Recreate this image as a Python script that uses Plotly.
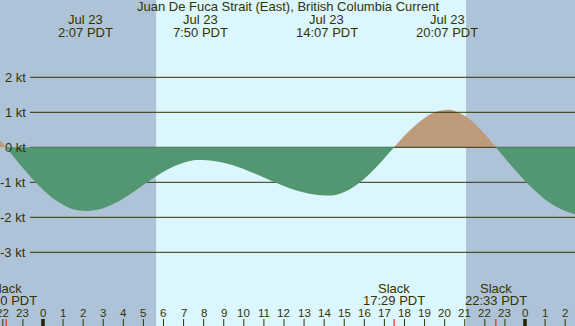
import plotly.graph_objects as go

# ---- data (hours relative to midnight Jul 23, PDT) ----
hours = [-2.14, -1.83, -1.5, -1.0, -0.5, 0.0, 0.5, 1.0, 1.5, 2.12,
         2.5, 3.0, 3.5, 4.0, 4.5, 5.0, 5.5, 6.0, 6.5, 7.0, 7.5, 7.83,
         8.5, 9.5, 10.5, 11.5, 12.5, 13.5, 14.2,
         14.5, 15.0, 15.5, 16.0, 16.5, 17.0, 17.48,
         18.0, 18.5, 19.0, 19.5, 20.12, 20.5, 21.0, 21.5, 22.0, 22.55,
         23.0, 23.5, 24.0, 24.5, 25.0, 25.5, 26.0, 26.49]
speed = [0.2, 0.0, -0.24, -0.59, -0.92, -1.21, -1.46, -1.64, -1.77, -1.82,
         -1.80, -1.74, -1.62, -1.46, -1.28, -1.08, -0.88, -0.70, -0.55, -0.44, -0.37, -0.36,
         -0.39, -0.52, -0.74, -0.99, -1.21, -1.35, -1.38,
         -1.37, -1.28, -1.12, -0.90, -0.62, -0.31, 0.0,
         0.33, 0.61, 0.84, 1.00, 1.07, 1.04, 0.90, 0.67, 0.37, 0.0,
         -0.31, -0.64, -0.96, -1.24, -1.49, -1.68, -1.82, -1.91]

title = "Juan De Fuca Strait (East), British Columbia Current"
max_times = [2 + 7/60, 7 + 50/60, 14 + 7/60, 20 + 7/60, 26 + 56/60]
max_dates = ["Jul 23", "Jul 23", "Jul 23", "Jul 23", "Jul 24"]
max_labels = ["2:07 PDT", "7:50 PDT", "14:07 PDT", "20:07 PDT", "2:56 PDT"]
slack_times = [-2 + 10/60, 17 + 29/60, 22 + 33/60]
slack_labels = ["22:10 PDT", "17:29 PDT", "22:33 PDT"]
sunrise = 5 + 38/60
sunset = 21 + 4/60
ytick_vals = [2, 1, 0, -1, -2, -3]
ytick_text = ["2 kt", "1 kt", "0 kt", "-1 kt", "-2 kt", "-3 kt"]
hour_ticks = list(range(-2, 27))
hour_text = [str(h % 24) for h in hour_ticks]

W, H = 575, 326
XR = [-2.14, 26.49]
YR = [-5.106, 4.209]
TXT = "#333300"
FONT = "Liberation Sans, Arial, sans-serif"
NIGHT = "#afc3d8"
DAY = "#dcf6fe"
EBB = "#529672"
FLOOD = "#bd9b7b"

def px2y(p):  # pixel row -> paper y
    return 1 - p / H

def px2h(p):
    return XR[0] + p / W * (XR[1] - XR[0])

fig = go.Figure()

# split into segments at slack points
segs = []
cur = [0]
for i in range(1, len(hours)):
    cur.append(i)
    if speed[i] == 0 and i != len(hours) - 1:
        segs.append(cur)
        cur = [i]
segs.append(cur)

def add_seg(idx, color):
    fig.add_trace(go.Scatter(
        x=[hours[i] for i in idx], y=[speed[i] for i in idx],
        mode="lines", line=dict(width=0, shape="spline", smoothing=1.0),
        fill="tozeroy", fillcolor=color, hoverinfo="skip", showlegend=False))

flood_segs = [s for s in segs if max(speed[i] for i in s) > 0]
ebb_segs = [s for s in segs if min(speed[i] for i in s) < 0]

for s in flood_segs:
    add_seg(s, FLOOD)

# gridlines (drawn above flood, below ebb)
gx0 = px2h(30)
for v in ytick_vals:
    fig.add_trace(go.Scatter(x=[gx0, XR[1]], y=[v, v], mode="lines",
                             line=dict(color=TXT, width=1), hoverinfo="skip",
                             showlegend=False))

for s in ebb_segs:
    add_seg(s, EBB)

shapes = []
# night shading
shapes.append(dict(type="rect", xref="x", yref="paper", x0=XR[0], x1=sunrise,
                   y0=0, y1=1, fillcolor=NIGHT, line_width=0, layer="below"))
shapes.append(dict(type="rect", xref="x", yref="paper", x0=sunset, x1=XR[1],
                   y0=0, y1=1, fillcolor=NIGHT, line_width=0, layer="below"))
# hour ticks
for h in hour_ticks:
    mid = (h % 24 == 0)
    shapes.append(dict(type="line", xref="x", yref="paper", x0=h, x1=h,
                       y0=px2y(326), y1=px2y(319),
                       line=dict(color="#222200" if mid else TXT, width=3.5 if mid else 1)))
for t in slack_times:
    shapes.append(dict(type="line", xref="x", yref="paper", x0=t, x1=t,
                       y0=px2y(326), y1=px2y(319), line=dict(color="red", width=1)))

ann = []
ann.append(dict(text=title, x=0.5, xref="paper", y=px2y(7), yref="paper",
                showarrow=False, font=dict(size=13, color=TXT, family=FONT),
                xanchor="center", yanchor="middle"))
for t, d, l in zip(max_times, max_dates, max_labels):
    ann.append(dict(text=d, x=t, xref="x", y=px2y(20), yref="paper", showarrow=False,
                    font=dict(size=13, color=TXT, family=FONT), xanchor="center", yanchor="middle"))
    ann.append(dict(text=l, x=t, xref="x", y=px2y(32.5), yref="paper", showarrow=False,
                    font=dict(size=13, color=TXT, family=FONT), xanchor="center", yanchor="middle"))
for t, l in zip(slack_times, slack_labels):
    ann.append(dict(text="Slack", x=t, xref="x", y=px2y(288.5), yref="paper", showarrow=False,
                    font=dict(size=13, color=TXT, family=FONT), xanchor="center", yanchor="middle"))
    ann.append(dict(text=l, x=t, xref="x", y=px2y(300.5), yref="paper", showarrow=False,
                    font=dict(size=13, color=TXT, family=FONT), xanchor="center", yanchor="middle"))
for h, s in zip(hour_ticks, hour_text):
    ann.append(dict(text=s, x=h, xref="x", y=px2y(312.5), yref="paper", showarrow=False,
                    font=dict(size=11.5, color=TXT, family=FONT), xanchor="center", yanchor="middle"))
for v, s in zip(ytick_vals, ytick_text):
    ann.append(dict(text=s, x=px2h(28), xref="x", y=v, yref="y", showarrow=False,
                    font=dict(size=13, color=TXT, family=FONT), xanchor="right", yanchor="middle"))

fig.update_layout(
    width=W, height=H, margin=dict(l=0, r=0, t=0, b=0),
    paper_bgcolor=DAY, plot_bgcolor=DAY,
    xaxis=dict(range=XR, visible=False, fixedrange=True),
    yaxis=dict(range=YR, visible=False, fixedrange=True),
    shapes=shapes, annotations=ann, showlegend=False,
)
fig.write_html("out.html", config={"displayModeBar": False},
               post_script="document.body.style.margin='0';document.body.style.overflow='hidden';")
